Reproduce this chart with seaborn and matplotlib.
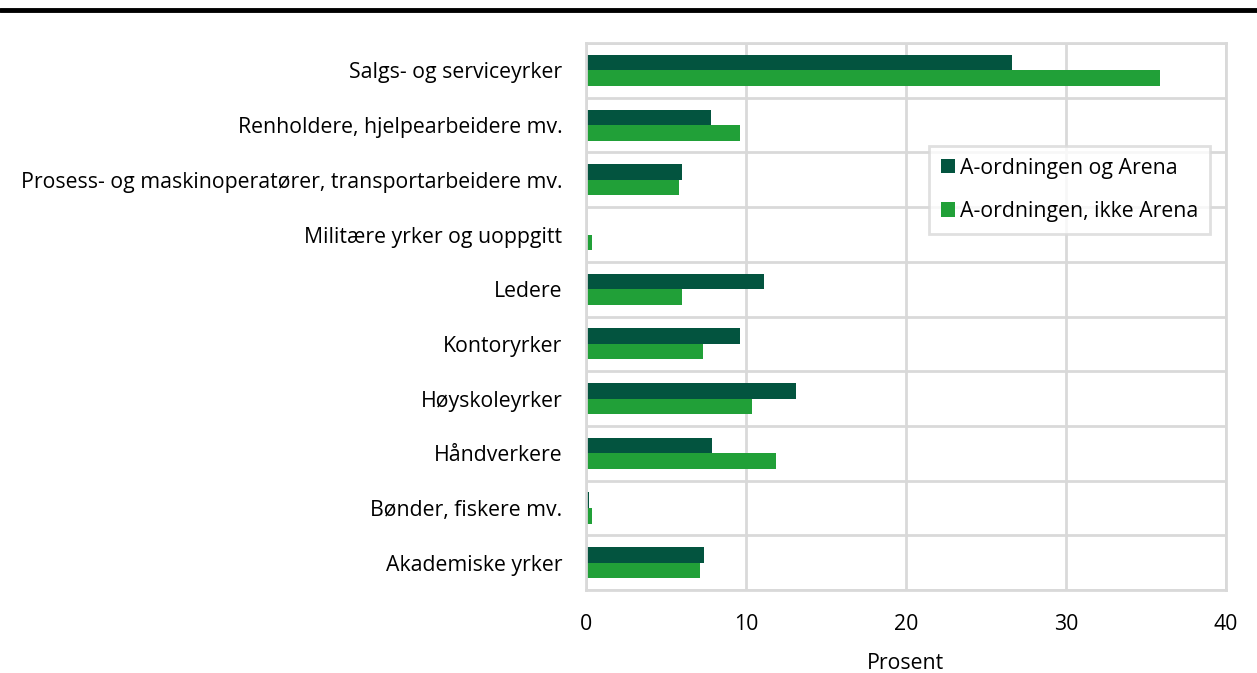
import numpy as np
import pandas as pd
import matplotlib
matplotlib.use("Agg")
import matplotlib.pyplot as plt
import seaborn as sns

categories = [
    "Salgs- og serviceyrker",
    "Renholdere, hjelpearbeidere mv.",
    "Prosess- og maskinoperatører, transportarbeidere mv.",
    "Militære yrker og uoppgitt",
    "Ledere",
    "Kontoryrker",
    "Høyskoleyrker",
    "Håndverkere",
    "Bønder, fiskere mv.",
    "Akademiske yrker",
]
series_names = ["A-ordningen og Arena", "A-ordningen, ikke Arena"]
arena = [26.6, 7.8, 6.0, 0.08, 11.1, 9.6, 13.1, 7.9, 0.2, 7.4]
ikke_arena = [35.9, 9.6, 5.8, 0.35, 6.0, 7.3, 10.4, 11.9, 0.35, 7.1]
xticks = [0, 10, 20, 30, 40]
colors = ["#03543f", "#21a038"]

df = pd.DataFrame({
    "Yrke": categories * 2,
    "Prosent": arena + ikke_arena,
    "Serie": [series_names[0]] * len(categories) + [series_names[1]] * len(categories),
})

sns.set_theme(style="white")
plt.rcParams["font.family"] = ["Open Sans", "DejaVu Sans"]
plt.rcParams["text.color"] = "black"
plt.rcParams["axes.labelcolor"] = "black"

FS = 15.3

fig = plt.figure(figsize=(12.57, 6.73), dpi=100)
ax = fig.add_axes([0.4662, 0.1233, 0.5091, 0.8127])

sns.barplot(data=df, y="Yrke", x="Prosent", hue="Serie", order=categories,
            hue_order=series_names, palette=colors, orient="h",
            width=0.57, gap=0, saturation=1, ax=ax, edgecolor="none")

ax.set_xlim(0, 40)
ax.set_xticks(xticks)
ax.set_ylim(len(categories) - 0.5, -0.5)
ax.set_yticks(np.arange(-0.5, len(categories)), minor=True)
ax.grid(True, which="minor", axis="y", color="#d9d9d9", linewidth=2)
ax.grid(True, which="major", axis="x", color="#d9d9d9", linewidth=2)
ax.set_axisbelow(True)
ax.tick_params(axis="both", which="both", length=0, labelsize=FS, colors="black")
ax.tick_params(axis="x", pad=17)
ax.tick_params(axis="y", pad=17)
for s in ax.spines.values():
    s.set_color("#d9d9d9")
    s.set_linewidth(2)
ax.set_ylabel("")
ax.set_xlabel("Prosent", fontsize=FS, labelpad=13, color="black")

leg = ax.legend(loc="upper left", bbox_to_anchor=(0.536, 0.812), frameon=True,
                fancybox=False, fontsize=FS, handlelength=0.65, handleheight=0.65,
                handletextpad=0.25, labelspacing=1.05, borderpad=0.55,
                borderaxespad=0)
leg.get_frame().set_edgecolor("#d9d9d9")
leg.get_frame().set_linewidth(2)
for t in leg.get_texts():
    t.set_color("black")

fig.add_artist(plt.Line2D([0, 1], [0.985, 0.985], color="black", linewidth=3.5,
                          transform=fig.transFigure))

fig.savefig("out.png", dpi=100)
